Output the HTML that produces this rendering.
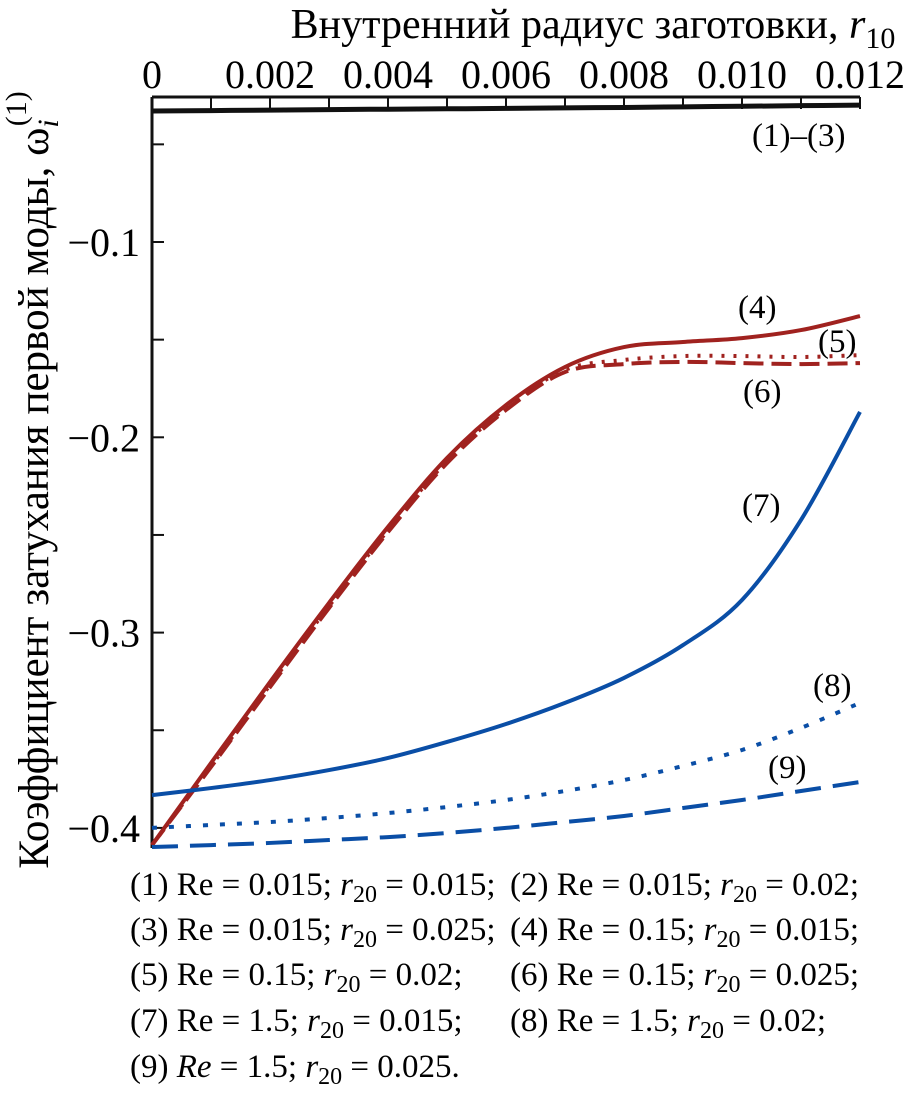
<!DOCTYPE html>
<html><head><meta charset="utf-8"><style>
body{margin:0;background:#fff;}
svg{display:block;}
svg text{font-family:"Liberation Serif",serif;}
</style></head><body>
<svg id="chart" width="904" height="1095" viewBox="0 0 904 1095">
<text x="593" y="38" font-size="42" text-anchor="middle">Внутренний радиус заготовки, <tspan font-style="italic">r</tspan><tspan font-size="30" dy="10">10</tspan></text>
<g id="xticks"></g>
<g id="yticks"></g>
<text transform="translate(48,480) rotate(-90)" font-size="43" text-anchor="middle">Коэффициент затухания первой моды, ω<tspan font-style="italic" font-size="30" dy="10">i</tspan><tspan font-size="30" dx="-7" dy="-32">(1)</tspan></text>
<g id="series"></g>
<g font-size="33">
<text x="752" y="146">(1)–(3)</text>
<text x="738" y="318">(4)</text>
<text x="818" y="352">(5)</text>
<text x="743" y="402">(6)</text>
<text x="742" y="516">(7)</text>
<text x="813" y="696">(8)</text>
<text x="768" y="778">(9)</text>
</g>
<g font-size="33">
<text x="130" y="895">(1) Re = 0.015; <tspan font-style="italic">r</tspan><tspan font-size="24" dy="7">20</tspan><tspan dy="-7"> = 0.015;</tspan></text>
<text x="510" y="895">(2) Re = 0.015; <tspan font-style="italic">r</tspan><tspan font-size="24" dy="7">20</tspan><tspan dy="-7"> = 0.02;</tspan></text>
<text x="130" y="940">(3) Re = 0.015; <tspan font-style="italic">r</tspan><tspan font-size="24" dy="7">20</tspan><tspan dy="-7"> = 0.025;</tspan></text>
<text x="510" y="940">(4) Re = 0.15; <tspan font-style="italic">r</tspan><tspan font-size="24" dy="7">20</tspan><tspan dy="-7"> = 0.015;</tspan></text>
<text x="130" y="985">(5) Re = 0.15; <tspan font-style="italic">r</tspan><tspan font-size="24" dy="7">20</tspan><tspan dy="-7"> = 0.02;</tspan></text>
<text x="510" y="985">(6) Re = 0.15; <tspan font-style="italic">r</tspan><tspan font-size="24" dy="7">20</tspan><tspan dy="-7"> = 0.025;</tspan></text>
<text x="130" y="1031">(7) Re = 1.5; <tspan font-style="italic">r</tspan><tspan font-size="24" dy="7">20</tspan><tspan dy="-7"> = 0.015;</tspan></text>
<text x="510" y="1031">(8) Re = 1.5; <tspan font-style="italic">r</tspan><tspan font-size="24" dy="7">20</tspan><tspan dy="-7"> = 0.02;</tspan></text>
<text x="130" y="1077">(9) <tspan font-style="italic">Re</tspan> = 1.5; <tspan font-style="italic">r</tspan><tspan font-size="24" dy="7">20</tspan><tspan dy="-7"> = 0.025.</tspan></text>
</g>
</svg>
<script>
const xValues=[0,0.001,0.002,0.003,0.004,0.005,0.006,0.007,0.008,0.009,0.010,0.011,0.012];
const xTickLabels=["0","0.002","0.004","0.006","0.008","0.010","0.012"];
const xTickValues=[0,0.002,0.004,0.006,0.008,0.010,0.012];
const yTickValues=[-0.1,-0.2,-0.3,-0.4];
const yTickLabels=["−0.1","−0.2","−0.3","−0.4"];
const s1to3=[-0.0329,-0.0327,-0.0325,-0.0322,-0.0320,-0.0318,-0.0316,-0.0313,-0.0311,-0.0308,-0.0305,-0.0302,-0.0299];
const s4=[-0.4088,-0.3668,-0.3253,-0.2848,-0.2459,-0.2106,-0.1835,-0.1640,-0.1538,-0.1512,-0.1492,-0.1451,-0.1379];
const s5=[-0.4088,-0.3683,-0.3268,-0.2864,-0.2475,-0.2121,-0.1850,-0.1655,-0.1604,-0.1584,-0.1584,-0.1589,-0.1579];
const s6=[-0.4088,-0.3688,-0.3279,-0.2874,-0.2485,-0.2132,-0.1860,-0.1666,-0.1625,-0.1614,-0.1620,-0.1625,-0.1620];
const s7=[-0.3832,-0.3796,-0.3755,-0.3704,-0.3642,-0.3560,-0.3468,-0.3360,-0.3232,-0.3064,-0.2833,-0.2423,-0.1870];
const s8=[-0.4000,-0.3985,-0.3970,-0.3949,-0.3924,-0.3893,-0.3857,-0.3811,-0.3755,-0.3683,-0.3601,-0.3488,-0.3360];
const s9=[-0.4098,-0.4088,-0.4077,-0.4062,-0.4047,-0.4026,-0.4000,-0.3970,-0.3939,-0.3898,-0.3857,-0.3811,-0.3765];

const NS="http://www.w3.org/2000/svg";
const X0=152,X1=860,XMAX=0.012;
function xs(v){return X0+(X1-X0)*v/XMAX;}
function ys(v){return 242+(-0.1-v)*1953;}
function mk(tag,attrs,parent){const e=document.createElementNS(NS,tag);for(const k in attrs)e.setAttribute(k,attrs[k]);parent.appendChild(e);return e;}
const xt=document.getElementById('xticks'),yt=document.getElementById('yticks'),sg=document.getElementById('series');
const yTop=97,yBot=848;
let ax=mk('line',{x1:X0,y1:yTop,x2:X1,y2:yTop,stroke:'#111','stroke-width':3},xt);


let ay=mk('line',{x1:X0,y1:yTop,x2:X0,y2:yBot,stroke:'#111','stroke-width':3},yt);


for(let i=0;i<=12;i++){const x=xs(i*0.001);
 const t=mk('line',{x1:x,y1:yTop,x2:x,y2:yTop+12,stroke:'#111','stroke-width':2},xt);
 
 }
xTickValues.forEach((v,i)=>{const t=mk('text',{x:xs(v),y:88,'font-size':40,'text-anchor':'middle'},xt);t.textContent=xTickLabels[i];
 
 });
[-0.05,-0.1,-0.15,-0.2,-0.25,-0.3,-0.35,-0.4].forEach(v=>{const t=mk('line',{x1:X0,y1:ys(v),x2:X0+12,y2:ys(v),stroke:'#111','stroke-width':2},yt);
 
 });
yTickValues.forEach((v,i)=>{const t=mk('text',{x:140,y:ys(v)+14,'font-size':40,'text-anchor':'end'},yt);t.textContent=yTickLabels[i];
 
 });
function pathD(vals){const p=vals.map((v,i)=>[xs(xValues[i]),ys(v)]);let d='M'+p[0][0]+','+p[0][1];
 for(let i=0;i<p.length-1;i++){const p0=p[Math.max(i-1,0)],p1=p[i],p2=p[i+1],p3=p[Math.min(i+2,p.length-1)];
 const c1=[p1[0]+(p2[0]-p0[0])/6,p1[1]+(p2[1]-p0[1])/6],c2=[p2[0]-(p3[0]-p1[0])/6,p2[1]-(p3[1]-p1[1])/6];
 d+=' C'+c1+' '+c2+' '+p2;}return d;}
const red='#a0221f',blue='#0a4ea6';
function line(vals,color,dash,name,w){const e=mk('path',{d:pathD(vals),fill:'none',stroke:color,'stroke-width':w||4,'stroke-dasharray':dash||'none'},sg);
 
 }
line(s1to3,'#111',null,'curve-1-3',5);
line(s6,red,'20 8','curve-6');
line(s5,red,'3 9','curve-5');
line(s4,red,null,'curve-4');
line(s7,blue,null,'curve-7');
line(s8,blue,'5 12','curve-8');
line(s9,blue,'26 12','curve-9');
</script>
</body></html>
